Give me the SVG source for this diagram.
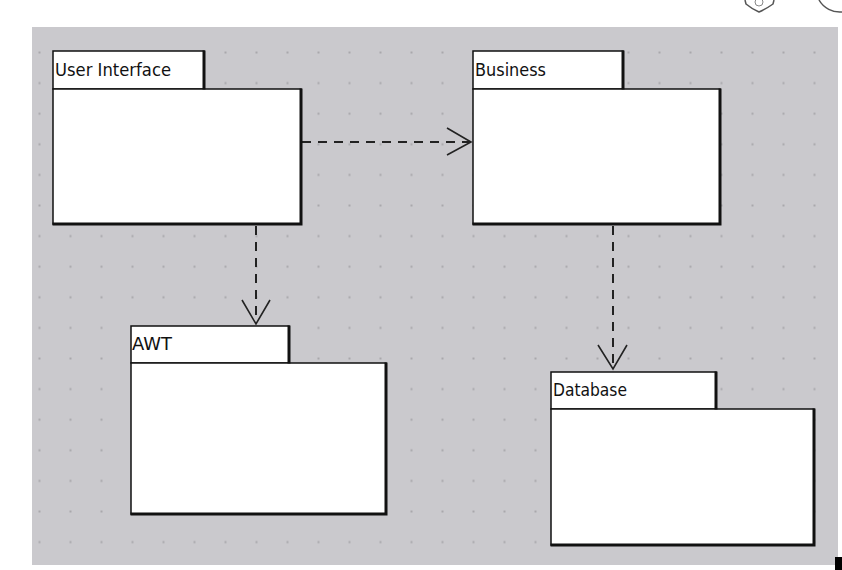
<svg xmlns="http://www.w3.org/2000/svg" width="842" height="570" viewBox="0 0 842 570">
<style>
.box{fill:#ffffff;stroke:#111;stroke-width:1.5}
.sh{fill:none;stroke:#111;stroke-width:3;stroke-linecap:square}
.lbl{font-family:"DejaVu Sans","Liberation Sans",sans-serif;font-size:17.5px;fill:#111}
.dep{fill:none;stroke:#222;stroke-width:2;stroke-dasharray:9 7}
.head{fill:none;stroke:#222;stroke-width:1.6}
</style>
<defs>
<pattern id="dots" patternUnits="userSpaceOnUse" x="38" y="51" width="31" height="30.6">
<rect x="0.5" y="0.5" width="2" height="2" fill="#a9a8ac"/>
</pattern>
</defs>
<rect width="842" height="570" fill="#ffffff"/>
<g id="icons" fill="none" stroke="#555" stroke-width="1.5">
<path d="M745,0 L746,4 Q752,9 759,12 Q766,9 773,4 L774,0"/>
<circle cx="759" cy="2" r="4" stroke="#888" stroke-width="1"/>
<path d="M819,0 A24,24 0 0 0 842,12"/>
</g>
<rect x="32" y="27" width="806" height="538" fill="#cac9cd"/>
<rect x="32" y="27" width="806" height="538" fill="url(#dots)"/>
<rect x="835" y="557" width="7" height="13" fill="#000"/>

<g id="connectors">
<line class="dep" x1="302" y1="142" x2="470" y2="142"/>
<polyline class="head" points="447,128 471,142 447,155"/>
<line class="dep" x1="256" y1="226" x2="256" y2="324"/>
<polyline class="head" points="242,300 256,324 270,300"/>
<line class="dep" x1="613" y1="226" x2="613" y2="369"/>
<polyline class="head" points="598,345 613,369 627,345"/>
</g>

<g id="user-interface">
<rect class="box" x="53" y="51" width="151" height="38"/>
<rect class="box" x="53" y="89" width="248" height="135"/>
<polyline class="sh" points="204,52 204,88"/>
<polyline class="sh" points="301,90 301,224 54,224"/>
<text class="lbl" x="55" y="76" textLength="116" lengthAdjust="spacingAndGlyphs">User Interface</text>
</g>

<g id="business">
<rect class="box" x="473" y="51" width="150" height="38"/>
<rect class="box" x="473" y="89" width="247" height="135"/>
<polyline class="sh" points="623,52 623,88"/>
<polyline class="sh" points="720,90 720,224 474,224"/>
<text class="lbl" x="475" y="76" textLength="71" lengthAdjust="spacingAndGlyphs">Business</text>
</g>

<g id="awt">
<rect class="box" x="131" y="326" width="158" height="37"/>
<rect class="box" x="131" y="363" width="255" height="151"/>
<polyline class="sh" points="289,327 289,362"/>
<polyline class="sh" points="386,364 386,514 132,514"/>
<text class="lbl" x="132" y="350" textLength="40" lengthAdjust="spacingAndGlyphs">AWT</text>
</g>

<g id="database">
<rect class="box" x="551" y="372" width="165" height="37"/>
<rect class="box" x="551" y="409" width="263" height="136"/>
<polyline class="sh" points="716,373 716,408"/>
<polyline class="sh" points="814,410 814,545 552,545"/>
<text class="lbl" x="553" y="396" textLength="74" lengthAdjust="spacingAndGlyphs">Database</text>
</g>
</svg>
